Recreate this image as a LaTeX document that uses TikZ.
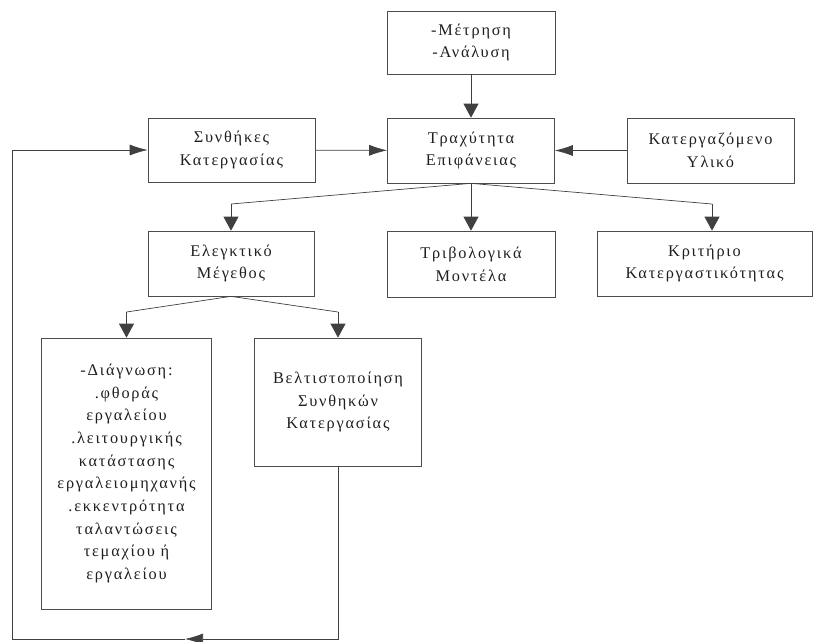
\documentclass[tikz,border=0pt]{standalone}
\usepackage{fontspec}
\setmainfont{Liberation Serif}[LetterSpace=11]
\usetikzlibrary{arrows.meta}
\tikzset{
  box/.style={draw=black!70, line width=0.7pt, inner sep=0pt, align=center, text=black!88,
    font=\fontsize{16.3}{22.7}\selectfont},
  conn/.style={draw=black!75, line width=0.7pt},
  arrv/.style={conn, -{Triangle[length=14pt,width=15pt]}},
  arrh/.style={conn, -{Latex[length=18pt,width=11pt]}}
}
\begin{document}
\begin{tikzpicture}[x=1pt,y=-1pt]
\useasboundingbox (0,0) rectangle (816,641);
\node[box, minimum width=168pt, minimum height=63pt] (M) at (471,42.5) {-Μέτρηση\\-Ανάλυση};
\node[box, minimum width=167pt, minimum height=65pt] (T) at (471,150.5) {Τραχύτητα\\Επιφάνειας};
\node[box, minimum width=167pt, minimum height=64pt] (S) at (231.5,150) {Συνθήκες\\Κατεργασίας};
\node[box, minimum width=167pt, minimum height=65pt] (U) at (710.5,150.5) {Κατεργαζόμενο\\Υλικό};
\node[box, minimum width=166pt, minimum height=65pt] (E) at (231,263.5) {Ελεγκτικό\\Μέγεθος};
\node[box, minimum width=168pt, minimum height=66pt] (R) at (471,264) {Τριβολογικά\\Μοντέλα};
\node[box, minimum width=215pt, minimum height=65pt] (K) at (704.5,263.5) {Κριτήριο\\Κατεργαστικότητας};
\node[box, minimum width=170pt, minimum height=271pt] (D) at (126.5,473.5) {-Διάγνωση:\\.φθοράς\\εργαλείου\\.λειτουργικής\\κατάστασης\\εργαλειομηχανής\\.εκκεντρότητα\\ταλαντώσεις\\τεμαχίου ή\\εργαλείου};
\node[box, minimum width=167pt, minimum height=128pt] (B) at (338,402) {Βελτιστοποίηση\\Συνθηκών\\Κατεργασίας};
\coordinate (e1) at (231,204);
\coordinate (k1) at (712,204);
\coordinate (d1) at (126.5,312);
\coordinate (b1) at (338,312);
\coordinate (m) at (185,639);
\coordinate (c) at (12,639);
\draw[arrv] (M) -- (T);
\draw[arrh] (S) -- (T);
\draw[arrh] (U) -- (T);
\draw[conn] (T.south) -- (e1);
\draw[arrv] (e1) -- (E.north);
\draw[arrv] (T.south) -- (R.north);
\draw[conn] (T.south) -- (k1);
\draw[arrv] (k1) -- (k1 |- K.north);
\draw[conn] (E.south) -- (d1);
\draw[arrv] (d1) -- (D.north);
\draw[conn] (E.south) -- (b1);
\draw[arrv] (b1) -- (B.north);
\draw[arrh] (B.south) |- (m);
\draw[arrh] (m) -- (c) |- (S.west);
\end{tikzpicture}
\end{document}
